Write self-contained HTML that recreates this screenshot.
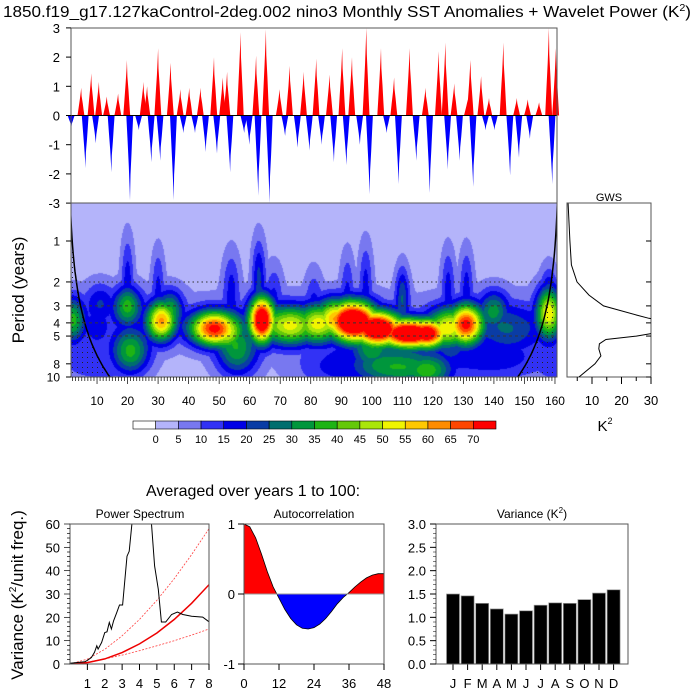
<!DOCTYPE html>
<html><head><meta charset="utf-8">
<style>
html,body{margin:0;padding:0;background:#fff;}
#wrap{position:relative;width:700px;height:700px;overflow:hidden;font-family:"Liberation Sans",sans-serif;}
canvas{position:absolute;left:71px;top:203px;}
svg{position:absolute;left:0;top:0;}
text{font-family:"Liberation Sans",sans-serif;fill:#000;}
</style></head>
<body>
<div id="wrap">
<canvas id="wv" width="486" height="174"></canvas>
<svg id="s" width="700" height="700">
<defs>
<pattern id="dots" width="5" height="5" patternUnits="userSpaceOnUse"><rect x="2" y="2" width="1" height="1" fill="#222"/></pattern>
<clipPath id="wvclip"><rect x="71" y="203" width="486" height="174"/></clipPath>
<clipPath id="gwsclip"><rect x="567" y="203" width="84" height="174"/></clipPath>
<clipPath id="psclip"><rect x="70" y="524" width="139" height="140"/></clipPath>
</defs>
<text x="3" y="17" font-size="16" textLength="688" lengthAdjust="spacingAndGlyphs">1850.f19_g17.127kaControl-2deg.002 nino3 Monthly SST Anomalies + Wavelet Power (K<tspan font-size="10" dy="-6">2</tspan><tspan dy="6">)</tspan></text>
<text x="253" y="496" font-size="16" text-anchor="middle">Averaged over years 1 to 100:</text>
</svg>
</div>
<script>
// ---------------- DATA ----------------
const posYears=[4.8,8.1,10.6,13.2,16.9,19.8,25.2,26.4,30.0,34.1,37.3,40.2,43.9,48.3,51.2,52.6,57.0,62.1,65.3,69.8,73.1,77.7,81.8,86.2,90.3,93.5,98.2,103.0,107.3,112.4,117.6,121.9,124.1,127.0,131.4,132.3,135.8,138.4,143.1,147.5,151.1,154.8,158.0,160.3];
const posValues=[0.95,1.45,1.15,0.65,0.75,1.9,1.15,1.0,2.3,1.8,0.9,0.95,0.95,2.0,1.3,1.5,2.85,2.05,2.95,0.9,1.7,1.5,1.95,1.4,2.3,2.0,3.0,2.3,1.3,2.3,0.95,2.2,2.5,1.1,0.55,1.9,1.35,0.6,2.5,0.6,0.55,0.45,3.0,2.3];
const negYears=[1.6,6.2,9.6,14.7,20.8,23.7,27.8,30.7,35.1,38.3,42.1,45.6,49.3,53.6,58.2,59.9,62.8,66.5,71.6,75.7,79.6,83.6,87.6,91.7,96.1,99.3,104.9,108.8,114.6,119.0,124.9,128.8,133.2,137.3,140.2,145.3,148.2,151.8,159.1];
const negValues=[-0.4,-1.8,-0.95,-1.95,-2.9,-0.5,-1.6,-1.55,-2.9,-0.6,-0.6,-1.25,-1.3,-1.95,-0.6,-1.0,-2.75,-3.0,-0.7,-1.1,-1.2,-1.0,-1.6,-1.7,-1.0,-2.7,-0.6,-2.35,-1.55,-2.65,-1.85,-1.55,-2.45,-0.5,-0.5,-2.05,-1.45,-0.8,-2.35];
const anomTicks=[-3,-2,-1,0,1,2,3];

const blobYear=  [2,11,10,20,21,31,34,48,52,56,64,73,82,88,94,102,112,118,108,118,125,131,140,158,145,100, 20,30,54,63,68,81,92,98,110,125,131,158, 10,90,140,160,127];
const blobPeriod=[3.8,2.8,4.5,3.0,6.5,3.9,3.2,4.4,4.6,6.5,3.8,4.2,4.1,3.7,3.9,4.4,4.8,4.8,8.5,9,4.3,4.1,3.2,3.4,4.5,6.5, 1.8,2.0,2.1,1.8,2.3,2.5,2.1,1.9,2.5,2.0,2.0,2.6, 8,8.5,7.5,8,7];
const blobPower= [30,14,10,30,32,52,26,62,40,28,76,44,40,44,80,76,76,66,30,32,40,62,24,45,18,24, 14,12,13,18,10,9,11,13,20,13,13,18, 10,14,14,10,12];
const blobWidthYears=[3,3.5,4,3.5,4.5,3.5,3,5.5,4.5,5,3,6,5,4.5,5.5,5.5,6.5,4.5,11,6,5,4,3.5,3,8,5, 1.5,1.5,2,1.6,2,2,1.6,1.6,1.6,1.6,1.6,2, 11,11,13,6,7];
const blobWidthOct=[0.4,0.35,0.45,0.35,0.4,0.35,0.35,0.3,0.35,0.45,0.4,0.35,0.35,0.35,0.35,0.3,0.25,0.25,0.35,0.3,0.35,0.35,0.35,0.45,0.45,0.35, 0.7,0.6,0.6,0.65,0.5,0.5,0.6,0.65,0.5,0.6,0.6,0.5, 0.4,0.4,0.4,0.4,0.4];
const bandPeriod=[3.8];
const bandPower=[4.5];
const bandWidthOct=[0.55];
const basePower=2.5;
const levels=[0,5,10,15,20,25,30,35,40,45,50,55,60,65,70];
const levelColors=["#ffffff","#b4b4fa","#7878f0","#3232f5","#0000e6","#0a3ca5","#006e6e","#00963c","#1eb414","#64c80a","#aae60a","#f0f500","#ffc800","#ff8c00","#ff4600","#ff0000"];
const periodTicks=[1,2,3,4,5,8,10];
const yearTicks=[10,20,30,40,50,60,70,80,90,100,110,120,130,140,150,160];

const gwsPeriod=[0.53,1,1.5,2,2.5,3,3.5,3.7,4.0,4.4,4.8,5,5.3,5.7,6.2,7,8,10];
const gwsPower=[1.9,2.5,3,4.9,9,13.9,25,29.3,38,40,30,25,14.7,12.5,12.3,13,11,5.6];
const gwsTicks=[10,20,30];

const psX=[0,0.85,0.97,1.23,1.41,1.54,1.62,1.82,2.0,2.13,2.26,2.38,2.51,2.69,2.85,3.03,3.28,3.41,3.56,3.8,4.4,4.69,4.87,5.08,5.26,5.51,5.85,6.18,6.49,7.0,7.64,8.0];
const psY=[0.3,1,1.4,2.8,5,7.8,6.4,9.2,13.5,13.8,17.8,15,18.5,22,25.3,25.3,46.2,48.3,60,75,75,60,42,32,18,18,21.2,22.3,21.2,20.5,20.1,18.1];
const redX=[0,1,2,3,4,5,6,7,8];
const redMean=[0,0.6,2.2,4.9,8.6,13.3,19.1,26,34];
const redUpper=[0,2.1,6.3,12.1,19.1,27.3,36.6,46.9,58];
const redLower=[0,0.8,2.2,3.8,5.7,7.8,10,12.4,15];
const psYTicks=[0,10,20,30,40,50,60];
const psXTicks=[1,2,3,4,5,6,7,8];

const acLag=[0,2,4,6,8,10,12,14,16,18,20,22,24,26,28,30,32,34,36,38,40,42,44,46,48];
const acValue=[1,0.96,0.8,0.57,0.32,0.1,-0.06,-0.22,-0.35,-0.44,-0.49,-0.5,-0.48,-0.43,-0.35,-0.25,-0.14,-0.05,0.02,0.1,0.17,0.23,0.27,0.29,0.29];
const acXTicks=[0,12,24,36,48];
const acYTicks=[-1,0,1];

const months=["J","F","M","A","M","J","J","A","S","O","N","D"];
const monthVar=[1.5,1.46,1.3,1.18,1.07,1.14,1.26,1.31,1.3,1.38,1.52,1.59];
const varTicks=[0,0.5,1,1.5,2,2.5,3];

// ---------------- HELPERS ----------------
const S=document.getElementById('s');
const NS='http://www.w3.org/2000/svg';
function mk(tag,attrs,parent){const e=document.createElementNS(NS,tag);for(const k in attrs)e.setAttribute(k,attrs[k]);(parent||S).appendChild(e);return e;}
function txt(x,y,s,size,anchor,parent){const e=mk('text',{x:x,y:y,'font-size':size,'text-anchor':anchor||'middle'},parent);e.textContent=s;return e;}

const xYear=t=>66.5+3.053*t;
const yAnom=v=>115.5-29.2*v;
const yPer=p=>241+136*Math.log10(p);
const xGws=v=>562.5+2.95*v;
const xPs=v=>70+v*(139/8);
const yPs=v=>664-v*(140/60);
const xAc=v=>244+v*(140/48);
const yAc=v=>594-v*70;
const yVar=v=>664-v*(140/3);

// ---------------- TOP ANOMALY PANEL ----------------
const gTop=mk('g',{});


function spike(t,v,col){
  const pts=[[t-1.2,0],[t-0.8,0.3*v],[t-0.4,0.6*v],[t-0.12,0.85*v],[t,v],[t+0.15,0.7*v],[t+0.5,0.45*v],[t+0.8,0.2*v],[t+1.05,0]];
  return mk('polygon',{points:pts.map(q=>xYear(q[0]).toFixed(1)+','+yAnom(q[1]).toFixed(1)).join(' '),fill:col},gTop);
}
posYears.forEach((t,i)=>{
  const p=spike(t,posValues[i],'#ff0000');
  
  
});
negYears.forEach((t,i)=>{
  const p=spike(t,negValues[i],'#0000ff');
  
  
});
mk('line',{x1:71,x2:557,y1:yAnom(0),y2:yAnom(0),stroke:'#000','stroke-width':1},gTop);
mk('rect',{x:71,y:28,width:486,height:175,fill:'none',stroke:'#555','stroke-width':1},gTop);
anomTicks.forEach(v=>{
  mk('line',{x1:71,x2:66,y1:yAnom(v),y2:yAnom(v),stroke:'#000'},gTop);
  const t=txt(60,yAnom(v)+5,String(v),13,'end',gTop);
  
  
});

// ---------------- WAVELET HEATMAP ----------------
const cv=document.getElementById('wv');const ctx=cv.getContext('2d');
const img=ctx.createImageData(486,174);
function hex(c){return [parseInt(c.substr(1,2),16),parseInt(c.substr(3,2),16),parseInt(c.substr(5,2),16)];}
const rgb=levelColors.map(hex);
for(let py=0;py<174;py++){
  const lp=(203+py+0.5-241)/136; const p=Math.pow(10,lp); const l2=Math.log2(p);
  for(let px=0;px<486;px++){
    const yr=(71+px+0.5-66.5)/3.053;
    let v=basePower;
    for(let b=0;b<bandPeriod.length;b++){const d=(l2-Math.log2(bandPeriod[b]))/bandWidthOct[b];v+=bandPower[b]*Math.exp(-0.5*d*d);}
    let mx=0,sm=0;
    for(let b=0;b<blobYear.length;b++){
      const dy=(yr-blobYear[b])/blobWidthYears[b];const dp=(l2-Math.log2(blobPeriod[b]))/blobWidthOct[b];
      const r=dy*dy+dp*dp; if(r>25)continue;
      const g=blobPower[b]*Math.exp(-0.5*r);sm+=g;if(g>mx)mx=g;
    }
    v+=mx+0.15*(sm-mx);
    let k=0; while(k<levels.length&&v>=levels[k])k++;
    const c=rgb[k]; const i=(py*486+px)*4;
    img.data[i]=c[0];img.data[i+1]=c[1];img.data[i+2]=c[2];img.data[i+3]=255;
  }
}
ctx.putImageData(img,0,0);

const gW=mk('g',{});


const coi=t=>0.73*Math.min(t-0.5,161.5-t);
let coiPts=[];
for(let t=1.2;t<=160.8;t+=0.2){const pp=Math.max(coi(t),0.3);coiPts.push([xYear(t),yPer(pp)]);}
const st=mk('path',{d:'M71,203 L557,203 L557,377 L71,377 Z '+coiPts.map((p,i)=>(i?'L':'M')+p[0].toFixed(1)+','+Math.min(p[1],377).toFixed(1)).join(' ')+' Z',fill:'url(#dots)','fill-rule':'evenodd','clip-path':'url(#wvclip)'},gW);


const cl=mk('path',{d:coiPts.map((p,i)=>(i?'L':'M')+p[0].toFixed(1)+','+p[1].toFixed(1)).join(' '),fill:'none',stroke:'#000','stroke-width':1.5,'clip-path':'url(#wvclip)'},gW);


[2,3,4,5].forEach(p=>{
  const l=mk('line',{x1:71,x2:557,y1:yPer(p),y2:yPer(p),stroke:'#333','stroke-width':1,'stroke-dasharray':p==2?'1.5,3':'3,3'},gW);
  
  
});
mk('rect',{x:71,y:203,width:486,height:174,fill:'none',stroke:'#555'},gW);
periodTicks.forEach(p=>{
  mk('line',{x1:71,x2:66,y1:yPer(p),y2:yPer(p),stroke:'#000'},gW);
  const t=txt(60,yPer(p)+4.5,String(p),12,'end',gW);
  
  
});
for(let y=2;y<=160;y++){
  const maj=y%10==0;
  mk('line',{x1:xYear(y),x2:xYear(y),y1:377,y2:maj?384:381,stroke:'#000','stroke-width':0.7},gW);
}
yearTicks.forEach(y=>{
  const t=txt(xYear(y),405,String(y),12,'middle',gW);
  
  
});
const pl=txt(0,0,'Period (years)',17,'middle',gW);
pl.setAttribute('transform','translate(24,290) rotate(-90)');



// colorbar
const gC=mk('g',{});


const cbw=(496-133)/16;
levelColors.forEach((c,i)=>{
  const r=mk('rect',{x:133+i*cbw,y:421,width:cbw,height:8,fill:c,stroke:'#000','stroke-width':0.6},gC);
  
  
});
levels.forEach((l,i)=>{const t=txt(133+(i+1)*cbw,443,String(l),11,'middle',gC);
  
  });

// ---------------- GWS ----------------
const gG=mk('g',{});


mk('rect',{x:567,y:203,width:84,height:174,fill:'#fff',stroke:'#555'},gG);
const gp=mk('path',{d:gwsPeriod.map((p,i)=>(i?'L':'M')+xGws(gwsPower[i]).toFixed(1)+','+yPer(p).toFixed(1)).join(' '),fill:'none',stroke:'#000','stroke-width':1,'clip-path':'url(#gwsclip)'},gG);


periodTicks.forEach(p=>{mk('line',{x1:651,x2:646,y1:yPer(p),y2:yPer(p),stroke:'#000'},gG);});
for(let v=5;v<=30;v+=5){mk('line',{x1:xGws(v),x2:xGws(v),y1:377,y2:v%10==0?384:381,stroke:'#000'},gG);}
gwsTicks.forEach(v=>{const t=txt(xGws(v),405,String(v),13,'middle',gG);
  
  });
const gt=txt(609,201,'GWS',11,'middle',gG);


const kt=mk('text',{x:605,y:431,'font-size':15,'text-anchor':'middle'},gG);
kt.innerHTML='K<tspan font-size="9" dy="-7">2</tspan>';



// ---------------- POWER SPECTRUM ----------------
const gP=mk('g',{});


function line(xs,ys,fx,fy,attrs,name){const e=mk('path',Object.assign({d:xs.map((x,i)=>(i?'L':'M')+fx(x).toFixed(1)+','+fy(ys[i]).toFixed(1)).join(' '),fill:'none'},attrs),gP);return e;}
line(redX,redUpper,xPs,yPs,{stroke:'#ff4040','stroke-width':0.8,'stroke-dasharray':'2,1.5','clip-path':'url(#psclip)'},'red-noise-upper');
line(redX,redLower,xPs,yPs,{stroke:'#ff4040','stroke-width':0.8,'stroke-dasharray':'2,1.5','clip-path':'url(#psclip)'},'red-noise-lower');
line(redX,redMean,xPs,yPs,{stroke:'#ee0000','stroke-width':1.5,'clip-path':'url(#psclip)'},'red-noise-mean');
line(psX,psY,xPs,yPs,{stroke:'#000','stroke-width':1,'clip-path':'url(#psclip)'},'power-spectrum-line');
mk('rect',{x:70,y:524,width:139,height:140,fill:'none',stroke:'#555'},gP);
for(let v=0;v<=60;v+=2){mk('line',{x1:70,x2:v%10==0?64:67,y1:yPs(v),y2:yPs(v),stroke:'#000','stroke-width':0.7},gP);}
psYTicks.forEach(v=>{const t=txt(60,yPs(v)+5,String(v),13,'end',gP);});
psXTicks.forEach(v=>{mk('line',{x1:xPs(v),x2:xPs(v),y1:664,y2:670,stroke:'#000'},gP);const t=txt(xPs(v),688,String(v),13,'middle',gP);});
const pst=txt(140,518,'Power Spectrum',12,'middle',gP);
const vt=mk('text',{'font-size':17,'text-anchor':'middle',transform:'translate(23,595) rotate(-90)'},gP);
vt.innerHTML='Variance (K<tspan font-size="10" dy="-7">2</tspan><tspan dy="7">/unit freq.)</tspan>';


// ---------------- AUTOCORRELATION ----------------
const gA=mk('g',{});


const acPath='M'+xAc(acLag[0])+','+yAc(0)+' '+acLag.map((l,i)=>'L'+xAc(l).toFixed(1)+','+yAc(acValue[i]).toFixed(1)).join(' ')+' L'+xAc(acLag[acLag.length-1])+','+yAc(0)+' Z';
const cpP=mk('clipPath',{id:'acP'},gA);mk('rect',{x:244,y:524,width:140,height:70},cpP);
const cpN=mk('clipPath',{id:'acN'},gA);mk('rect',{x:244,y:594,width:140,height:70},cpN);
const ap=mk('path',{d:acPath,fill:'#ff0000','clip-path':'url(#acP)'},gA);
const an=mk('path',{d:acPath,fill:'#0000ff','clip-path':'url(#acN)'},gA);
const al=mk('path',{d:acLag.map((l,i)=>(i?'L':'M')+xAc(l).toFixed(1)+','+yAc(acValue[i]).toFixed(1)).join(' '),fill:'none',stroke:'#000','stroke-width':0.8},gA);
mk('line',{x1:244,x2:384,y1:yAc(0),y2:yAc(0),stroke:'#999','stroke-width':1},gA);
mk('rect',{x:244,y:524,width:140,height:140,fill:'none',stroke:'#555'},gA);
acYTicks.forEach(v=>{mk('line',{x1:244,x2:238,y1:yAc(v),y2:yAc(v),stroke:'#000'},gA);const t=txt(235,yAc(v)+5,String(v),13,'end',gA);});
acXTicks.forEach(v=>{mk('line',{x1:xAc(v),x2:xAc(v),y1:664,y2:670,stroke:'#000'},gA);const t=txt(xAc(v),688,String(v),13,'middle',gA);});
const act=txt(314,518,'Autocorrelation',12,'middle',gA);

// ---------------- VARIANCE BARS ----------------
const gV=mk('g',{});


const xMon=i=>453+i*14.6;
monthVar.forEach((v,i)=>{
  const r=mk('rect',{x:xMon(i)-6.5,y:yVar(v),width:13,height:664-yVar(v),fill:'#000',stroke:'#999','stroke-width':0.7},gV);
  
  
  mk('line',{x1:xMon(i),x2:xMon(i),y1:664,y2:670,stroke:'#000'},gV);
  const t=txt(xMon(i),688,months[i],13,'middle',gV);
});
mk('rect',{x:436,y:524,width:192,height:140,fill:'none',stroke:'#555'},gV);
varTicks.forEach(v=>{mk('line',{x1:436,x2:430,y1:yVar(v),y2:yVar(v),stroke:'#000'},gV);const t=txt(426,yVar(v)+5,v.toFixed(1),13,'end',gV);});
for(let v=0.1;v<3;v+=0.1){mk('line',{x1:436,x2:433,y1:yVar(v),y2:yVar(v),stroke:'#000','stroke-width':0.5},gV);}
const vrt=mk('text',{x:532,y:518,'font-size':12,'text-anchor':'middle'},gV);
vrt.innerHTML='Variance (K<tspan font-size="8" dy="-5">2</tspan><tspan dy="5">)</tspan>';

</script>
</body></html>
